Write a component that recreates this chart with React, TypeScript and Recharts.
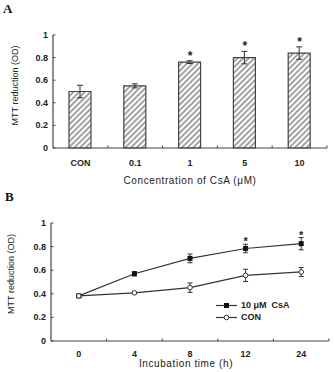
import React from "react";
import { Bar, ComposedChart, ErrorBar, Label, Legend, Line, XAxis, YAxis } from "recharts";

// A: MTT reduction by CsA concentration
const doseLabels = ["CON", "0.1", "1", "5", "10"];
const doseMean = [0.5, 0.55, 0.76, 0.8, 0.84];
const doseErr = [0.055, 0.018, 0.012, 0.055, 0.055];
const doseSig = [false, false, true, true, true];

// B: MTT reduction over incubation time
const timeLabels = ["0", "4", "8", "12", "24"];
const csaMean = [0.382, 0.57, 0.7, 0.784, 0.825];
const csaErr = [0.01, 0.018, 0.037, 0.036, 0.052];
const conMean = [0.382, 0.408, 0.452, 0.556, 0.585];
const conErr = [0.01, 0.008, 0.04, 0.052, 0.038];
const timeSig = [false, false, false, true, true];

const yTicks = [0, 0.2, 0.4, 0.6, 0.8, 1];

const AXIS = "#444";
const INK = "#222";
const SANS = "'Liberation Sans', Arial, sans-serif";

const doseRows = doseLabels.map((name, i) => ({
  name,
  mean: doseMean[i],
  err: doseErr[i],
  star: doseSig[i] ? doseMean[i] + doseErr[i] : null,
}));

const timeRows = timeLabels.map((t, i) => ({
  t,
  csa: csaMean[i],
  csaErr: csaErr[i],
  con: conMean[i],
  conErr: conErr[i],
  star: timeSig[i] ? csaMean[i] + csaErr[i] : null,
}));

function YTick(props: any) {
  const { x, y, payload } = props;
  return (
    <g>
      <line x1={x} x2={x + 2.5} y1={y} y2={y} stroke={AXIS} strokeWidth={1} />
      <text x={x - 5} y={y + 3} textAnchor="end" fontSize={9} fontWeight="bold" fill={INK} fontFamily={SANS}>
        {payload.value}
      </text>
    </g>
  );
}

// category label in the band centre, small inward tick on the band's right edge
function BandTick(props: any) {
  const { x, y, payload, width, visibleTicksCount, labelDy } = props;
  const half = width && visibleTicksCount ? width / visibleTicksCount / 2 : 27.5;
  return (
    <g>
      <line x1={x + half} x2={x + half} y1={y} y2={y - 2.5} stroke={AXIS} strokeWidth={1} />
      <text x={x} y={y + labelDy} textAnchor="middle" fontSize={9} fontWeight="bold" fill={INK} fontFamily={SANS}>
        {payload.value}
      </text>
    </g>
  );
}

const xTitle = (text: string, dy: number, dx: number) => (p: any) => {
  const vb = p.viewBox;
  return (
    <text
      x={vb.x + vb.width / 2 + dx}
      y={vb.y + dy}
      textAnchor="middle"
      fontSize={10}
      letterSpacing={0.6}
      fill={INK}
      fontFamily={SANS}
    >
      {text}
    </text>
  );
};

const yTitle = (x: number, lift: number) => (p: any) => {
  const vb = p.viewBox;
  const cy = vb.y + vb.height / 2 - lift;
  return (
    <text
      x={x}
      y={cy}
      transform={`rotate(-90, ${x}, ${cy})`}
      textAnchor="middle"
      fontSize={9}
      fill={INK}
      fontFamily={SANS}
    >
      MTT reduction (OD)
    </text>
  );
};

const starDot = (lift: number, size: number) => (p: any) => {
  if (p.cy == null || p.cx == null) return <g key={p.index} />;
  return (
    <text
      key={p.index}
      x={p.cx}
      y={p.cy - lift}
      textAnchor="middle"
      fontSize={size}
      fontWeight="bold"
      fill={INK}
      fontFamily={SANS}
    >
      *
    </text>
  );
};

const squareDot = (p: any) => (
  <rect key={p.index} x={p.cx - 2.5} y={p.cy - 2.5} width={5} height={5} fill="#111" />
);

const circleDot = (p: any) => (
  <circle key={p.index} cx={p.cx} cy={p.cy} r={2.3} fill="#fff" stroke="#333" strokeWidth={1} />
);

function TimeLegend() {
  const rows = [
    { name: "10 μM  CsA", dot: <rect x={8} y={3} width={5} height={5} fill="#111" /> },
    { name: "CON", dot: <circle cx={10.5} cy={5.5} r={2.3} fill="#fff" stroke="#333" strokeWidth={1} /> },
  ];
  return (
    <div style={{ fontFamily: SANS, fontSize: 9, fontWeight: "bold", color: INK }}>
      {rows.map((r) => (
        <div key={r.name} style={{ display: "flex", alignItems: "center", height: 12 }}>
          <svg width={21} height={11} style={{ marginRight: 4 }}>
            <line x1={0} x2={21} y1={5.5} y2={5.5} stroke="#333" strokeWidth={1.2} />
            {r.dot}
          </svg>
          <span style={{ whiteSpace: "pre" }}>{r.name}</span>
        </div>
      ))}
    </div>
  );
}

const panelLetter: React.CSSProperties = {
  position: "absolute",
  fontFamily: "'Liberation Serif', 'DejaVu Serif', serif",
  fontWeight: "bold",
  fontSize: 13,
  color: "#111",
  lineHeight: 1,
};

export default function App() {
  return (
    <div style={{ position: "absolute", left: 0, top: 0, width: 335, height: 372, background: "#fff" }}>
      <div style={{ ...panelLetter, left: 3, top: 2 }}>A</div>
      <div style={{ ...panelLetter, left: 5, top: 190 }}>B</div>

      <div style={{ position: "absolute", left: 0, top: 0 }}>
        <ComposedChart width={335} height={190} data={doseRows} margin={{ top: 35, right: 8, left: 0, bottom: 0 }}>
          <defs>
            <pattern id="hatch" width={4} height={4} patternUnits="userSpaceOnUse" patternTransform="rotate(45)">
              <rect width={4} height={4} fill="#fff" />
              <line x1={1} y1={0} x2={1} y2={4} stroke="#8c8c8c" strokeWidth={1.6} />
            </pattern>
          </defs>
          <XAxis
            dataKey="name"
            height={42}
            interval={0}
            tickSize={0}
            tickMargin={0}
            tickLine={false}
            axisLine={{ stroke: AXIS, strokeWidth: 1.2 }}
            tick={<BandTick labelDy={17.5} />}
          >
            <Label content={xTitle("Concentration of CsA (μM)", 35.5, 0)} />
          </XAxis>
          <YAxis
            width={53}
            domain={[0, 1]}
            ticks={yTicks}
            interval={0}
            tickSize={0}
            tickMargin={0}
            tickLine={false}
            axisLine={{ stroke: AXIS, strokeWidth: 1.2 }}
            tick={<YTick />}
          >
            <Label content={yTitle(18, 6)} />
          </YAxis>
          <Bar dataKey="mean" barSize={22} fill="url(#hatch)" stroke="#444" strokeWidth={1.2} isAnimationActive={false}>
            <ErrorBar dataKey="err" width={3} stroke="#333" strokeWidth={1} direction="y" />
          </Bar>
          <Line
            dataKey="star"
            stroke="none"
            dot={starDot(1, 12)}
            activeDot={false}
            legendType="none"
            isAnimationActive={false}
          />
        </ComposedChart>
      </div>

      <div style={{ position: "absolute", left: 0, top: 190 }}>
        <ComposedChart width={335} height={182} data={timeRows} margin={{ top: 33, right: 6, left: 0, bottom: 0 }}>
          <XAxis
            dataKey="t"
            scale="band"
            height={31}
            interval={0}
            tickSize={0}
            tickMargin={0}
            tickLine={false}
            axisLine={{ stroke: AXIS, strokeWidth: 1.2 }}
            tick={<BandTick labelDy={15.5} />}
          >
            <Label content={xTitle("Incubation time (h)", 26, -4)} />
          </XAxis>
          <YAxis
            width={51}
            domain={[0, 1]}
            ticks={yTicks}
            interval={0}
            tickSize={0}
            tickMargin={0}
            tickLine={false}
            axisLine={{ stroke: AXIS, strokeWidth: 1.2 }}
            tick={<YTick />}
          >
            <Label content={yTitle(14, 8)} />
          </YAxis>
          <Legend
            layout="horizontal"
            verticalAlign="middle"
            align="center"
            content={<TimeLegend />}
            wrapperStyle={{ position: "absolute", left: 216, top: 109, width: 100 }}
          />
          <Line
            dataKey="csa"
            name="10 μM CsA"
            stroke="#333"
            strokeWidth={1.2}
            dot={squareDot}
            activeDot={false}
            isAnimationActive={false}
          >
            <ErrorBar dataKey="csaErr" width={2.5} stroke="#333" strokeWidth={1} direction="y" />
          </Line>
          <Line
            dataKey="con"
            name="CON"
            stroke="#333"
            strokeWidth={1.2}
            dot={circleDot}
            activeDot={false}
            isAnimationActive={false}
          >
            <ErrorBar dataKey="conErr" width={2.5} stroke="#333" strokeWidth={1} direction="y" />
          </Line>
          <Line
            dataKey="star"
            stroke="none"
            dot={starDot(-1, 11)}
            activeDot={false}
            legendType="none"
            isAnimationActive={false}
          />
        </ComposedChart>
      </div>
    </div>
  );
}
